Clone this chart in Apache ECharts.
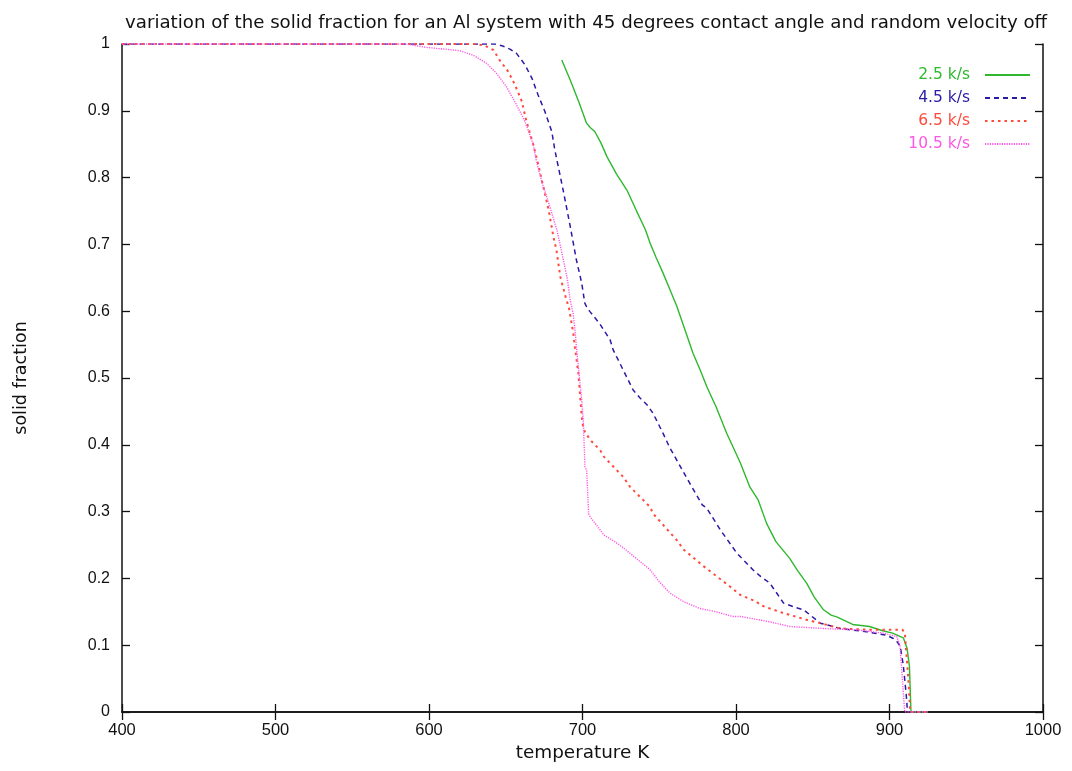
<!DOCTYPE html>
<html>
<head>
<meta charset="utf-8">
<script src="https://cdn.jsdelivr.net/npm/echarts@6/dist/echarts.min.js"></script>
<style>
  html, body { margin: 0; padding: 0; background: #ffffff; }
  #chart { width: 1072px; height: 771px; }
</style>
</head>
<body>
<div id="chart"></div>
<script>
// Solid fraction vs temperature for four cooling rates (temperature K, solid fraction)
const seriesNames = ['2.5 k/s', '4.5 k/s', '6.5 k/s', '10.5 k/s'];
const seriesColors = ['#2eb82e', '#2a1aa6', '#ff4a3c', '#ff55e6'];

const rate2_5 = [
  [686.5, 0.976], [692, 0.946], [698, 0.911], [702.5, 0.882], [705, 0.875], [708, 0.869],
  [712, 0.852], [716, 0.831], [722, 0.806], [729, 0.781], [735, 0.751], [741, 0.722],
  [744, 0.702], [748, 0.680], [752.5, 0.657], [757, 0.632], [761.5, 0.607], [766, 0.577],
  [772, 0.537], [777, 0.510], [781, 0.487], [787, 0.457], [794, 0.417], [798, 0.397],
  [803, 0.372], [809, 0.337], [814.5, 0.317], [820, 0.282], [826, 0.255], [835, 0.230],
  [840, 0.212], [846, 0.193], [851, 0.172], [857, 0.153], [862, 0.145], [866, 0.142],
  [876, 0.131], [887, 0.128], [895, 0.122], [902, 0.118], [909, 0.111], [911.5, 0.095],
  [913, 0.068], [914, 0], [925, 0]
];

const rate4_5 = [
  [400, 1], [643, 1], [648, 0.997], [653, 0.992], [657, 0.986], [662.5, 0.969], [667, 0.949],
  [671, 0.924], [675.5, 0.899], [680, 0.869], [682, 0.841], [687.5, 0.780], [692, 0.727],
  [696, 0.677], [699.5, 0.642], [701.5, 0.612], [703, 0.605], [705, 0.599], [711, 0.582],
  [718, 0.557], [720, 0.542], [726.5, 0.512], [733, 0.482], [737.5, 0.470], [742, 0.460],
  [746, 0.447], [752.5, 0.417], [757, 0.395], [759, 0.387], [768, 0.350], [778, 0.310],
  [781, 0.305], [790, 0.272], [800.5, 0.238], [803, 0.232], [811, 0.213], [816, 0.203],
  [822, 0.193], [831, 0.163], [838, 0.157], [844, 0.153], [855, 0.133], [868, 0.125],
  [885, 0.120], [898, 0.115], [902.5, 0.110], [905, 0.105], [907, 0.098], [909, 0.070],
  [911, 0.023], [911.7, 0], [925, 0]
];

const rate6_5 = [
  [400, 1], [630, 1], [636, 0.998], [642, 0.991], [646, 0.976], [651.5, 0.959], [656, 0.939],
  [660.5, 0.914], [663.5, 0.884], [668, 0.849], [671, 0.821], [676.5, 0.766], [678, 0.751],
  [681, 0.712], [683, 0.692], [685.5, 0.652], [689.5, 0.617], [691, 0.607], [694, 0.567],
  [695, 0.547], [697.3, 0.507], [699.5, 0.442], [700.5, 0.425], [702, 0.417], [706, 0.405],
  [711.5, 0.392], [714, 0.382], [726.5, 0.352], [731, 0.337], [744, 0.307], [746, 0.297],
  [761.5, 0.257], [766, 0.243], [779, 0.218], [796, 0.188], [803, 0.175], [813.5, 0.165],
  [816, 0.160], [822, 0.155], [831, 0.148], [846, 0.138], [855, 0.133], [868, 0.125],
  [889.5, 0.123], [908.5, 0.123], [910, 0.118], [912.3, 0.048], [913.5, 0], [925, 0]
];

const rate10_5 = [
  [400, 1], [585, 1], [598, 0.995], [620, 0.990], [629, 0.983], [637.5, 0.971], [644, 0.956],
  [650.5, 0.936], [657, 0.909], [662.5, 0.884], [668, 0.849], [670, 0.824], [674, 0.790],
  [678.8, 0.756], [683.5, 0.720], [687.5, 0.677], [690, 0.650], [692, 0.617], [694, 0.595],
  [695.5, 0.562], [696.2, 0.542], [699.5, 0.467], [700.5, 0.437], [701.6, 0.367],
  [702.7, 0.362], [704, 0.297], [705, 0.292], [714, 0.265], [721, 0.255], [727, 0.245],
  [735, 0.230], [744, 0.213], [750, 0.195], [757, 0.178], [766, 0.165], [776.5, 0.155],
  [787, 0.150], [798, 0.143], [803, 0.143], [822, 0.135], [835, 0.128], [857, 0.125],
  [879, 0.123], [896, 0.118], [904.7, 0.113], [906.8, 0.100], [907.8, 0.068], [909.9, 0],
  [925, 0]
];

const seriesData = [rate2_5, rate4_5, rate6_5, rate10_5];
const dashes = ['solid', [5, 4], [2.5, 4], [1.2, 1.2]];
const widths = [1.4, 1.5, 2, 1.4];

const numFont = "'Liberation Sans', Arial, Helvetica, sans-serif";
const textFont = "'DejaVu Sans', Verdana, sans-serif";
const ink = '#111111';

const chart = echarts.init(document.getElementById('chart'), null, { renderer: 'canvas' });

const tickStyle = { show: true, inside: true, length: 8, lineStyle: { color: ink, width: 1.3 } };
const lineStyleAxis = { show: true, lineStyle: { color: ink, width: 1.5 } };

chart.setOption({
  animation: false,
  backgroundColor: '#ffffff',
  title: {
    text: 'variation of the solid fraction for an Al system with 45 degrees contact angle and random velocity off',
    left: 120,
    top: 9,
    textStyle: { fontFamily: textFont, fontSize: 18.2, fontWeight: 'normal', color: ink }
  },
  legend: {
    orient: 'vertical',
    right: 36,
    top: 62,
    align: 'right',
    itemWidth: 45,
    itemHeight: 14,
    itemGap: 7,
    itemStyle: { opacity: 0 },
    textStyle: { fontFamily: textFont, fontSize: 15.5, padding: [0, 10, 0, 0] },
    data: seriesNames.map((n, i) => ({ name: n, textStyle: { color: seriesColors[i] } }))
  },
  grid: { left: 122, right: 29, top: 44, bottom: 59, containLabel: false },
  xAxis: [
    {
      type: 'value', min: 400, max: 1000, interval: 100, position: 'bottom',
      name: 'temperature K', nameLocation: 'middle', nameGap: 29,
      nameTextStyle: { fontFamily: textFont, fontSize: 18.4, color: ink },
      axisLine: lineStyleAxis, axisTick: tickStyle,
      axisLabel: { fontFamily: numFont, fontSize: 16.5, color: ink, margin: 10, formatter: v => String(v) },
      splitLine: { show: false }
    },
    {
      type: 'value', min: 400, max: 1000, interval: 100, position: 'top',
      axisLine: lineStyleAxis, axisTick: tickStyle,
      axisLabel: { show: false }, splitLine: { show: false }
    }
  ],
  yAxis: [
    {
      type: 'value', min: 0, max: 1, interval: 0.1, position: 'left',
      name: 'solid fraction', nameLocation: 'middle', nameGap: 92,
      nameTextStyle: { fontFamily: textFont, fontSize: 17.5, color: ink },
      axisLine: lineStyleAxis, axisTick: tickStyle,
      axisLabel: {
        fontFamily: numFont, fontSize: 16, color: ink, margin: 12,
        formatter: v => String(Math.round(v * 10) / 10)
      },
      splitLine: { show: false }
    },
    {
      type: 'value', min: 0, max: 1, interval: 0.1, position: 'right',
      axisLine: lineStyleAxis, axisTick: tickStyle,
      axisLabel: { show: false }, splitLine: { show: false }
    }
  ],
  series: seriesNames.map((n, i) => ({
    name: n,
    type: 'line',
    xAxisIndex: 0,
    yAxisIndex: 0,
    data: seriesData[i],
    symbol: 'none',
    smooth: false,
    color: seriesColors[i],
    lineStyle: { color: seriesColors[i], width: widths[i], type: dashes[i] },
    z: 2 + i
  }))
});
</script>
</body>
</html>
